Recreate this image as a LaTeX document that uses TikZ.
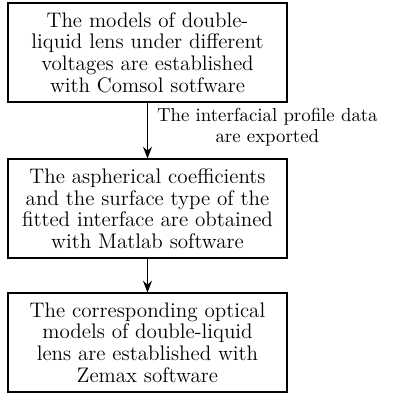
\documentclass[tikz,border=0pt]{standalone}
\usepackage{amsmath}
\usepackage{graphicx}
\usepackage{tikz}
\usetikzlibrary{arrows.meta}

\begin{document}
\begin{tikzpicture}[x=0.5556pt,y=0.5556pt,yscale=-1,xscale=1,
  stepbox/.style={draw,semithick,align=center,minimum width=155pt,minimum height=55pt,inner sep=2pt,font=\fontsize{11.7}{12}\selectfont},
  flow/.style={semithick,-{Stealth[length=6.5pt,width=5pt]}}]
\useasboundingbox (0,0) rectangle (406,396);

% Boxes
\node[stepbox] (comsol) at (147.5,52.5) {The models of double-\\liquid lens under different\\voltages are established\\with Comsol sotfware};
\node[stepbox] (matlab) at (147.5,208.5) {The aspherical coefficients\\and the surface type of the\\fitted interface are obtained\\with Matlab software};
\node[stepbox] (zemax) at (147.5,342.5) {The corresponding optical\\models of double-liquid\\lens are established with\\Zemax software};

% Arrows
\draw[flow] (comsol) -- (matlab) node[midway,right,inner sep=5pt,yshift=1.7pt] (export) {\renewcommand{\arraystretch}{0.94}\scalebox{1.045}{\begin{tabular}{@{}c@{}}The interfacial profile data\\are exported\end{tabular}}};
\draw[flow] (matlab) -- (zemax);

\end{tikzpicture}
\end{document}
